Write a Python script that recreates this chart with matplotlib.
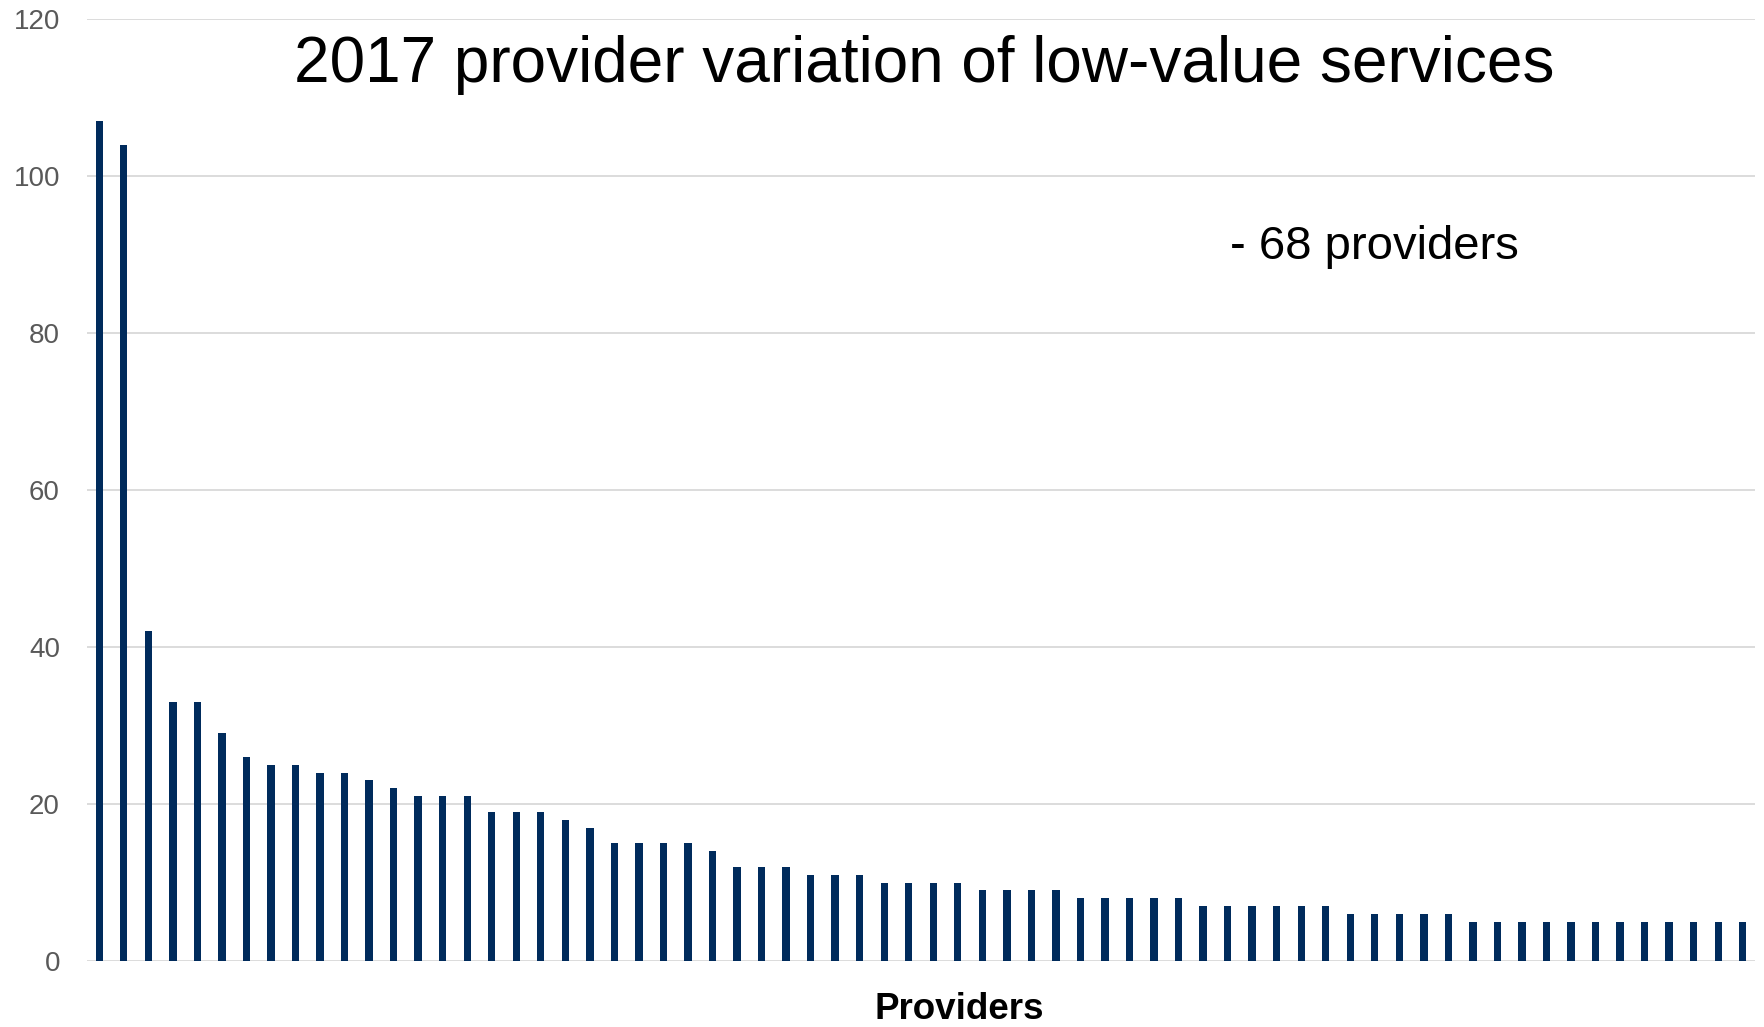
import numpy as np
import matplotlib.pyplot as plt

plt.rcParams['font.family'] = ['Liberation Sans', 'DejaVu Sans']

# low-value services per provider, sorted descending (68 providers)
counts = [107, 104, 42, 33, 33, 29, 26, 25, 25, 24, 24, 23, 22, 21, 21, 21,
          19, 19, 19, 18, 17, 15, 15, 15, 15, 14, 12, 12, 12, 11, 11, 11,
          10, 10, 10, 10, 9, 9, 9, 9, 8, 8, 8, 8, 8, 7, 7, 7, 7, 7, 7,
          6, 6, 6, 6, 6, 5, 5, 5, 5, 5, 5, 5, 5, 5, 5, 5, 5]
yticks = [0, 20, 40, 60, 80, 100, 120]
title = "2017 provider variation of low-value services"
note = "- 68 providers"

W, H = 1764, 1027
fig = plt.figure(figsize=(W / 100, H / 100), dpi=100)
ax = fig.add_axes([87 / W, 1 - 961 / H, (1755 - 87) / W, (961 - 19) / H])

x = np.arange(len(counts))
ax.bar(x, counts, width=0.3, color='#002B5C', zorder=3)

ax.set_xlim(-0.5, len(counts) - 0.5)
ax.set_ylim(0, 120)
ax.set_yticks(yticks)
ax.set_xticks([])
ax.grid(axis='y', color='#D9D9D9', linewidth=1.3, zorder=0)
for s in ax.spines.values():
    s.set_visible(False)
ax.tick_params(axis='y', length=0, pad=19.5, labelsize=20, labelcolor='#595959')

fig.text(924 / W, 1 - 82 / H, title, ha='center', va='baseline',
         fontsize=46, color='black')
fig.text(1230 / W, 1 - 259 / H, note, ha='left', va='baseline',
         fontsize=34, color='black')
fig.text(959 / W, 1 - 1019 / H, "Providers", ha='center', va='baseline',
         fontsize=26.5, fontweight='bold')

fig.savefig('out.png', dpi=100)
